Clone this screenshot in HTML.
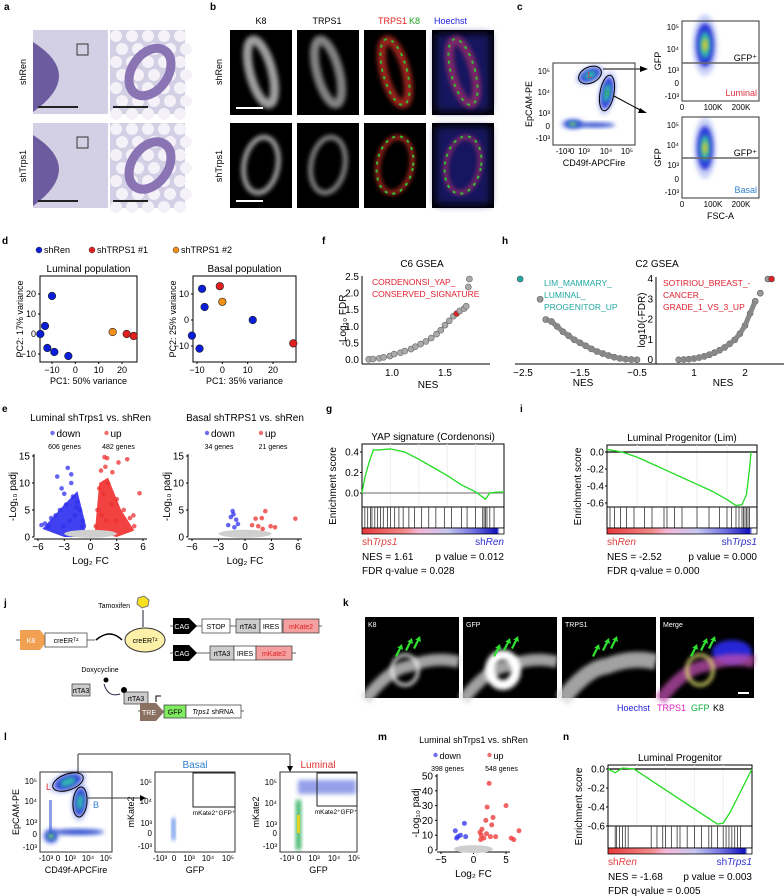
<!DOCTYPE html>
<html><head><meta charset="utf-8"><style>
html,body{margin:0;padding:0;background:#fff}
svg{display:block;font-family:"Liberation Sans",sans-serif}
text{fill:#000}
</style></head><body>
<svg id="fig" width="784" height="896" viewBox="0 0 784 896" xmlns="http://www.w3.org/2000/svg">
<defs>
<filter id="bl" x="-50%" y="-50%" width="200%" height="200%"><feGaussianBlur stdDeviation="2"/></filter>
<filter id="bl4" x="-50%" y="-50%" width="200%" height="200%"><feGaussianBlur stdDeviation="4"/></filter>
<linearGradient id="rank" x1="0" x2="1"><stop offset="0" stop-color="#e8383a"/><stop offset="0.3" stop-color="#f28a8a"/><stop offset="0.4" stop-color="#f4b8d8"/><stop offset="0.6" stop-color="#c8c8f0"/><stop offset="0.8" stop-color="#6a6ae0"/><stop offset="0.95" stop-color="#1010c0"/><stop offset="0.97" stop-color="#fff"/></linearGradient>
</defs>
<g id="root"></g>
</svg>
<script>
// ---------- data ----------
const pcaLumX=[-10,-13,-15,-12,-9,-3,16,22,25];
const pcaLumY=[19,4,0,-7,-9,-11,1,0,-1];
const pcaLumG=[0,0,0,0,0,0,2,1,1];
const pcaBasX=[-8,-7,-12,-9,12,-1,0,28];
const pcaBasY=[12,5,-6,-11,0,13,7,-9];
const pcaBasG=[0,0,0,0,0,1,2,1];
const volLumDownX=[-2.6,-3.8,-2.2,-3.3,-4.5,-5.2,-5.6,-3.0,-2.0,-1.5,-1.2,-2.8,-4.0,-3.5,-1.8,-2.4,-0.9,-1.0,-4.8,-3.1,-2.2,-1.6];
const volLumDownY=[12.8,11.2,11.6,9.0,3.5,2.5,2.2,8.0,7.5,6.5,5.0,6.0,4.0,5.0,4.0,3.0,3.0,2.0,2.0,2.0,10.0,5.5];
const volLumUpX=[1.6,1.9,1.7,4.2,3.2,2.5,5.6,1.2,2.0,1.0,1.5,3.0,3.8,4.5,5.0,0.8,2.4,1.3,2.9,1.8,4.9,0.6];
const volLumUpY=[14.8,14.6,13.0,14.4,13.8,12.0,8.1,12.3,10.0,9.0,8.0,7.0,5.0,3.5,2.0,5.0,6.0,4.0,3.0,3.0,4.0,2.0];
const volBasDownX=[-1.4,-1.3,-1.6,-1.0,-1.9,-0.8,-1.2];
const volBasDownY=[4.8,4.2,3.7,3.2,2.2,2.4,1.8];
const volBasUpX=[2.3,1.9,1.2,0.8,1.5,3.4,2.9,5.7,2.0];
const volBasUpY=[4.8,3.5,3.4,2.2,2.0,1.8,2.0,3.4,1.5];
const volMDownX=[-1.4,-2.8,-2.0,-2.4,-1.2,-2.6];
const volMDownY=[18,13,10,9,9,8];
const volMUpX=[2.4,2.1,5.0,3.0,1.0,1.2,1.6,2.0,2.6,3.4,1.3,5.8,6.2,7.0,1.9,2.8,1.1];
const volMUpY=[45,29,30,22,12,10,8,11,9,9,14,8,7,13,20,17,7];
const c6NES=[0.78,0.82,0.88,0.92,0.98,1.02,1.08,1.12,1.18,1.22,1.27,1.32,1.37,1.42,1.46,1.50,1.54,1.58,1.61,1.64,1.68,1.70,1.72,1.73];
const c6FDR=[0.02,0.03,0.05,0.08,0.12,0.18,0.22,0.27,0.33,0.40,0.48,0.56,0.66,0.78,0.90,1.05,1.18,1.32,1.40,1.48,1.55,1.62,2.20,2.44];
const c2NegNES=[-2.55,-2.2,-2.1,-2.0,-1.9,-1.8,-1.7,-1.6,-1.5,-1.4,-1.3,-1.2,-1.1,-1.0,-0.9,-0.8,-0.7,-0.6,-0.5];
const c2NegFDR=[4.0,3.0,2.0,1.9,1.65,1.4,1.2,1.0,0.85,0.7,0.55,0.42,0.32,0.22,0.14,0.08,0.04,0.02,0.01];
const c2PosNES=[0.7,0.8,0.9,1.0,1.1,1.2,1.3,1.4,1.5,1.6,1.7,1.8,1.9,2.0,2.1,2.2,2.3,2.45,2.52];
const c2PosFDR=[0.01,0.02,0.04,0.07,0.12,0.18,0.26,0.36,0.48,0.62,0.80,1.0,1.3,1.7,2.3,2.9,3.3,4.0,4.0];
const gPos=[0,0.02,0.05,0.08,0.12,0.2,0.3,0.4,0.5,0.6,0.7,0.8,0.84,0.87,0.9,0.95,1];
const gES=[0,0.15,0.3,0.42,0.42,0.43,0.4,0.33,0.25,0.17,0.08,0.01,-0.03,-0.06,0.0,0.01,0.01];
const iPos=[0,0.1,0.2,0.3,0.4,0.5,0.6,0.7,0.8,0.86,0.9,0.93,0.95,0.96];
const iES=[0.03,0.0,-0.06,-0.14,-0.22,-0.3,-0.38,-0.46,-0.56,-0.63,-0.62,-0.5,-0.2,0.0];
const nPos=[0,0.05,0.1,0.18,0.3,0.4,0.5,0.6,0.7,0.76,0.8,0.85,0.9,0.95,1];
const nES=[0,-0.04,0.01,0,-0.12,-0.22,-0.32,-0.42,-0.52,-0.58,-0.57,-0.45,-0.3,-0.15,0];
const gHits=[0.02,0.04,0.06,0.07,0.09,0.11,0.13,0.15,0.18,0.2,0.23,0.26,0.29,0.33,0.37,0.42,0.47,0.52,0.58,0.63,0.7,0.74,0.8,0.85,0.86,0.87,0.88,0.9,0.93];
const iHits=[0.02,0.05,0.09,0.13,0.18,0.25,0.3,0.38,0.4,0.45,0.5,0.6,0.68,0.75,0.8,0.83,0.86,0.88,0.9,0.91,0.92,0.93,0.94,0.95];
const nHits=[0.05,0.06,0.08,0.1,0.12,0.14,0.3,0.34,0.38,0.4,0.44,0.48,0.5,0.55,0.6,0.65,0.7,0.72,0.76,0.8,0.82,0.84,0.86,0.88,0.9,0.92];

// ---------- helpers ----------
const NS='http://www.w3.org/2000/svg';
const root=document.getElementById('root');
function mk(tag,attrs,name,parent){
  const el=document.createElementNS(NS,tag);
  for(const k in attrs) el.setAttribute(k,attrs[k]);
  
  
  (parent||root).appendChild(el);
  return el;
}
function tx(x,y,s,o,name){
  o=o||{};
  const a={x:x,y:y,'font-size':o.fs||9,'text-anchor':o.a||'start'};
  if(o.fill) a.style='fill:'+o.fill;
  if(o.w) a['font-weight']=o.w;
  if(o.rot) a.transform='rotate('+o.rot+' '+x+' '+y+')';
  if(o.it) a['font-style']='italic';
  const t=mk('text',a,name||'label');
  t.textContent=s;
  return t;
}
function lin(d0,d1,r0,r1){return v=>r0+(v-d0)/(d1-d0)*(r1-r0);}
function line(x1,y1,x2,y2,st,w,name){return mk('line',{x1:x1,y1:y1,x2:x2,y2:y2,stroke:st||'#000','stroke-width':w||1},name||'axis-line');}
function rect(x,y,w,h,f,st,name,sw){return mk('rect',{x:x,y:y,width:w,height:h,fill:f||'none',stroke:st||'none','stroke-width':sw||1},name||'box');}

// panel letters
[['a',4,10],['b',210,10],['c',517,10],['d',2,244],['f',322,244],['h',502,244],['e',2,412],['g',326,412],['i',520,412],['j',4,606],['k',343,606],['l',4,740],['m',378,740],['n',563,740]].forEach(p=>tx(p[1],p[2],p[0],{fs:10,w:'bold'},'panel-label-'+p[0]));

// ---------- a: histology ----------
function histo(x,y,w,h,zoomed,name){
  const g=mk('g',{},name);
  mk('rect',{x:x,y:y,width:w,height:h,fill:'#d3cfe4'},'tissue-bg',g);
  if(!zoomed){
    mk('path',{d:`M${x} ${y+12} Q${x+52} ${y+45} ${x} ${y+h-2} Z`,fill:'#6c5b9e'},'lymph-node',g);
    mk('rect',{x:x+44,y:y+14,width:11,height:11,fill:'none',stroke:'#333'},'inset-box',g);
    mk('line',{x1:x+5,y1:y+h-7,x2:x+45,y2:y+h-7,stroke:'#222','stroke-width':2},'scale-bar',g);
  } else {
    for(let i=0;i<5;i++)for(let j=0;j<7;j++){mk('circle',{cx:x+6+i*16+(j%2)*6,cy:y+6+j*13,r:6,fill:'#f4f2f8'},'fat-cell',g);}
    mk('ellipse',{cx:x+40,cy:y+h/2,rx:18,ry:26,fill:'none',stroke:'#8a74b4','stroke-width':9,transform:`rotate(35 ${x+40} ${y+h/2})`},'duct',g);
    mk('line',{x1:x+3,y1:y+h-7,x2:x+38,y2:y+h-7,stroke:'#222','stroke-width':2},'scale-bar',g);
  }
}
histo(33,30,75,84,false,'shren-overview');histo(110,30,75,84,true,'shren-zoom');
histo(33,123,75,85,false,'shtrps1-overview');histo(110,123,75,85,true,'shtrps1-zoom');
tx(26,72,'shRen',{rot:-90,a:'middle'},'row-label-shren');tx(26,166,'shTrps1',{rot:-90,a:'middle'},'row-label-shtrps1');

// ---------- b: immunofluorescence ----------
const bx=[230,297,364,432], bw=62;
const bcols=[['#bbb','#bbb'],['#999','#999'],['#b02a24','#2c9a2c'],['#902a6a','#2a2ad0']];
[[30,'shren',false],[123,'shtrps1',true]].forEach(r=>{
  bx.forEach((x,i)=>{
    const g=mk('g',{},'if-tile-'+r[1]+'-'+i);
    mk('rect',{x:x,y:r[0],width:bw,height:85,fill:'#000'},'tile-bg',g);
    const cx=x+31,cy=r[0]+42;
    if(i==3) mk('rect',{x:x+4,y:r[0]+4,width:bw-8,height:77,fill:'#141460',filter:'url(#bl4)'},'nuclei',g);
    mk('ellipse',{cx:cx,cy:cy,rx:r[2]?17:11,ry:r[2]?28:33,fill:'none',stroke:bcols[i][0],'stroke-width':r[2]?5:9,opacity:0.85,filter:'url(#bl)',transform:`rotate(${r[2]?10:-15} ${cx} ${cy})`},'duct-signal',g);
    if(i>=2) mk('ellipse',{cx:cx,cy:cy,rx:r[2]?18:12,ry:r[2]?29:34,fill:'none',stroke:'#30c030','stroke-width':2,'stroke-dasharray':'3 5',transform:`rotate(${r[2]?10:-15} ${cx} ${cy})`},'k8-signal',g);
    if(i==0) mk('line',{x1:x+6,y1:r[0]+78,x2:x+33,y2:r[0]+78,stroke:'#fff','stroke-width':2},'scale-bar',g);
  });
});
tx(261,24,'K8',{a:'middle'},'col-k8');tx(327,24,'TRPS1',{a:'middle'},'col-trps1');
tx(378,24,'TRPS1',{fill:'#e02020'},'col-merge-trps1');tx(409,24,'K8',{fill:'#20a020'},'col-merge-k8');
tx(434,24,'Hoechst',{fill:'#2020e0'},'col-hoechst');
tx(222,72,'shRen',{rot:-90,a:'middle'},'b-row-shren');tx(222,166,'shTrps1',{rot:-90,a:'middle'},'b-row-shtrps1');

// ---------- flow helpers ----------
function blob(cx,cy,rx,ry,rot,name,core){
  const g=mk('g',{transform:`rotate(${rot||0} ${cx} ${cy})`},name);
  mk('ellipse',{cx:cx,cy:cy,rx:rx*1.4,ry:ry*1.4,fill:'#a8b4f0',opacity:0.6,filter:'url(#bl)'},'density-low',g);
  mk('ellipse',{cx:cx,cy:cy,rx:rx,ry:ry,fill:'#2a3ad8',filter:'url(#bl)'},'density-mid',g);
  mk('ellipse',{cx:cx,cy:cy,rx:rx*0.6,ry:ry*0.6,fill:'#30b8b0',filter:'url(#bl)'},'density-high',g);
  if(core) mk('ellipse',{cx:cx,cy:cy,rx:rx*0.3,ry:ry*0.3,fill:'#d8c830',filter:'url(#bl)'},'density-peak',g);
  return g;
}
function flowFrame(x,y,w,h,yt,xt,ylab,xlab,name){
  rect(x,y,w,h,'none','#333',name+'-frame');
  yt.forEach(t=>tx(x-3,t[1],t[0],{a:'end',fs:8},name+'-ytick'));
  xt.forEach(t=>tx(t[1],y+h+9,t[0],{a:'middle',fs:8},name+'-xtick'));
  tx(x-21,y+h/2,ylab,{rot:-90,a:'middle',fs:9},name+'-ylabel');
  tx(x+w/2,y+h+21,xlab,{a:'middle',fs:9},name+'-xlabel');
}
// c
blob(573,124,9,4,0,'neg-pop',true);mk('ellipse',{cx:595,cy:125,rx:20,ry:2.5,fill:'#3050d0',filter:'url(#bl)'},'neg-band');
blob(590,75,11,6,-25,'luminal-pop');blob(607,93,6,16,10,'basal-pop');
mk('ellipse',{cx:590,cy:75,rx:12,ry:8,transform:'rotate(-25 590 75)',fill:'none',stroke:'#000'},'gate-L');
mk('ellipse',{cx:607,cy:93,rx:7,ry:18,transform:'rotate(10 607 93)',fill:'none',stroke:'#000'},'gate-B');
tx(590,78,'L',{fs:8,fill:'#e03030',a:'middle'},'gate-L-label');tx(607,96,'B',{fs:8,fill:'#30a060',a:'middle'},'gate-B-label');
flowFrame(553,63,82,82,[['10⁵',74],['10⁴',95],['10³',116],['0',129],['-10³',141]],[['-10³',563],['0',572],['10³',584],['10⁴',606],['10⁵',627]],'EpCAM-PE','CD49f-APCFire','c-main');
line(603,69,640,69,'#555',1.5,'arrow-luminal');mk('path',{d:'M640 66 L648 69 L640 72 Z',fill:'#000'},'arrowhead');
line(614,96,642,111,'#000',1,'arrow-basal');mk('path',{d:'M640 108 L647 113 L638 113 Z',fill:'#000'},'arrowhead');
blob(705,45,9,22,0,'luminal-gfp-pop',true);
flowFrame(682,21,77,80,[['10⁵',30],['10⁴',52],['10³',73],['0',86],['-10³',99]],[['0',682],['100K',713],['200K',741]],'GFP','','c-lum');
line(682,63,759,63,'#666',1.5,'gfp-gate');tx(757,61,'GFP⁺',{a:'end',fs:9},'gfp-gate-label');tx(757,96,'Luminal',{a:'end',fs:9,fill:'#e03040'},'luminal-label');
blob(705,148,8,22,0,'basal-gfp-pop',true);
flowFrame(682,117,77,81,[['10⁵',128],['10⁴',148],['10³',168],['0',182],['-10³',195]],[['0',682],['100K',713],['200K',741]],'GFP','FSC-A','c-bas');
line(682,158,759,158,'#666',1.5,'gfp-gate');tx(757,156,'GFP⁺',{a:'end',fs:9},'gfp-gate-label');tx(757,193,'Basal',{a:'end',fs:9,fill:'#3080d0'},'basal-label');

// ---------- d: PCA ----------
const grpCol=['#0a1ed8','#e02020','#f0901a'];
mk('circle',{cx:39,cy:250,r:3,fill:grpCol[0],stroke:'#333','stroke-width':0.5},'legend-shren-dot');tx(44,253,'shRen',{fs:9},'legend-shren');
mk('circle',{cx:92,cy:250,r:3,fill:grpCol[1],stroke:'#333','stroke-width':0.5},'legend-sh1-dot');tx(97,253,'shTRPS1 #1',{fs:9},'legend-shtrps1-1');
mk('circle',{cx:176,cy:250,r:3,fill:grpCol[2],stroke:'#333','stroke-width':0.5},'legend-sh2-dot');tx(181,253,'shTRPS1 #2',{fs:9},'legend-shtrps1-2');
function pca(X,Y,G,fx,fy,frame,xt,yt,title,xl,yl,name){
  rect(frame[0],frame[1],frame[2],frame[3],'none','#000',name+'-frame');
  tx(frame[0]+frame[2]/2,frame[1]-4,title,{a:'middle',fs:10},name+'-title');
  xt.forEach(v=>{line(fx(v),frame[1]+frame[3],fx(v),frame[1]+frame[3]+2,'#000',1,'tick');tx(fx(v),frame[1]+frame[3]+11,String(v).replace('-','−'),{a:'middle',fs:9},name+'-xtick');});
  yt.forEach(v=>{line(frame[0]-2,fy(v),frame[0],fy(v),'#000',1,'tick');tx(frame[0]-4,fy(v)+3,String(v).replace('-','−'),{a:'end',fs:9},name+'-ytick');});
  tx(frame[0]+frame[2]/2,frame[1]+frame[3]+22,xl,{a:'middle',fs:9},name+'-xlabel');
  tx(frame[0]-17,frame[1]+frame[3]/2,yl,{a:'middle',fs:9,rot:-90},name+'-ylabel');
  X.forEach((v,i)=>mk('circle',{cx:fx(v),cy:fy(Y[i]),r:3.8,fill:grpCol[G[i]],stroke:'#222','stroke-width':0.6},name+'-point'));
}
pca(pcaLumX,pcaLumY,pcaLumG,lin(-10,20,52,122),lin(0,10,334,314),[40,276,97,86],[-10,0,10,20],[-10,0,10,20],'Luminal population','PC1: 50% variance','PC2: 17% variance','pca-luminal');
pca(pcaBasX,pcaBasY,pcaBasG,lin(-10,20,197,273),lin(0,10,320,294),[193,276,103,86],[-10,0,10,20],[-10,0,10],'Basal population','PC1: 35% variance','PC2: 25% variance','pca-basal');

// ---------- e / m: volcano ----------
function volcano(o){
  const fx=lin(o.xd[0],o.xd[1],o.xr[0],o.xr[1]), fy=lin(o.yd[0],o.yd[1],o.yr[0],o.yr[1]);
  const ax=o.xr[0]-4;
  line(ax,o.yr[1]-2,ax,o.yr[0],'#000',1,o.name+'-yaxis');line(ax,o.yr[0]+2,o.xr[1]+4,o.yr[0]+2,'#000',1,o.name+'-xaxis');
  o.xt.forEach(v=>{line(fx(v),o.yr[0]+2,fx(v),o.yr[0]+4,'#000',1,'tick');tx(fx(v),o.yr[0]+13,String(v).replace('-','−'),{a:'middle',fs:10},o.name+'-xtick');});
  o.yt.forEach(v=>{line(ax-2,fy(v),ax,fy(v),'#000',1,'tick');tx(ax-4,fy(v)+3.5,String(v),{a:'end',fs:10},o.name+'-ytick');});
  if(o.dense){
    mk('path',{d:`M${fx(-1)} ${fy(0)} L${fx(-3)} ${fy(0)} L${fx(-5.5)} ${fy(1.5)} L${fx(-3)} ${fy(6)} L${fx(-1.5)} ${fy(8.5)} L${fx(-0.5)} ${fy(2)} Z`,fill:'#2020ee',opacity:0.85},o.name+'-down-cloud');
    mk('path',{d:`M${fx(0.5)} ${fy(1)} L${fx(1)} ${fy(10)} L${fx(2)} ${fy(11)} L${fx(3.5)} ${fy(5)} L${fx(5)} ${fy(1.2)} L${fx(3)} ${fy(0)} Z`,fill:'#ee2020',opacity:0.85},o.name+'-up-cloud');
  }
  mk('ellipse',{cx:fx(0),cy:fy(0.6),rx:(fx(3)-fx(0)),ry:4,fill:'#cfcfcf'},o.name+'-ns-cloud');
  o.dX.forEach((v,i)=>mk('circle',{cx:fx(v),cy:fy(o.dY[i]),r:o.r,fill:'#3030ee',opacity:0.75},o.name+'-down-point'));
  o.uX.forEach((v,i)=>mk('circle',{cx:fx(v),cy:fy(o.uY[i]),r:o.r,fill:'#ee3030',opacity:0.75},o.name+'-up-point'));
  const cx=(o.xr[0]+o.xr[1])/2;
  tx(cx,o.titleY,o.title[0],{a:'middle',fs:o.tfs||10},o.name+'-title');
  mk('circle',{cx:cx-38,cy:o.titleY+12,r:2.2,fill:'#7070ee'},'legend-down-dot');tx(cx-34,o.titleY+16,'down',{fs:o.tfs||10},o.name+'-legend-down');
  mk('circle',{cx:cx+16,cy:o.titleY+12,r:2.2,fill:'#ee7070'},'legend-up-dot');tx(cx+20,o.titleY+16,'up',{fs:o.tfs||10},o.name+'-legend-up');
  tx(cx-26,o.titleY+28,o.title[1],{a:'middle',fs:7},o.name+'-down-count');tx(cx+28,o.titleY+28,o.title[2],{a:'middle',fs:7},o.name+'-up-count');
  tx(cx,o.yr[0]+27,'Log₂ FC',{a:'middle',fs:10},o.name+'-xlabel');
  tx(ax-18,(o.yr[0]+o.yr[1])/2,'-Log₁₀ padj',{a:'middle',fs:10,rot:-90},o.name+'-ylabel');
}
volcano({name:'volcano-luminal',xd:[-6,6],xr:[38,143],yd:[0,15],yr:[537,456],xt:[-6,-3,0,3,6],yt:[0,5,10,15],dX:volLumDownX,dY:volLumDownY,uX:volLumUpX,uY:volLumUpY,r:2.3,dense:true,titleY:421,title:['Luminal shTrps1 vs. shRen','606 genes','482 genes']});
volcano({name:'volcano-basal',xd:[-6,6],xr:[192,298],yd:[0,15],yr:[537,456],xt:[-6,-3,0,3,6],yt:[0,5,10,15],dX:volBasDownX,dY:volBasDownY,uX:volBasUpX,uY:volBasUpY,r:2.3,titleY:421,title:['Basal shTRPS1 vs. shRen','34 genes','21 genes']});
volcano({name:'volcano-m',xd:[-5,5],xr:[441,506],yd:[0,50],yr:[850,776],xt:[-5,0,5],yt:[0,10,20,30,40,50],dX:volMDownX,dY:volMDownY,uX:volMUpX,uY:volMUpY,r:2.5,titleY:743,tfs:9,title:['Luminal shTrps1 vs. shRen','398 genes','548 genes']});

// ---------- f / h: GSEA scatter ----------
(function(){
  const fx=lin(1,1.5,392,445), fy=lin(0,2.5,360,277);
  line(362,276,362,364,'#000',1,'f-yaxis');line(362,364,490,364,'#000',1,'f-xaxis');
  [0,0.5,1,1.5,2,2.5].forEach(v=>tx(359,fy(v)+3,v.toFixed(1),{a:'end',fs:10},'f-ytick'));
  [1,1.5].forEach(v=>tx(fx(v),376,v.toFixed(1),{a:'middle',fs:10},'f-xtick'));
  tx(422,267,'C6 GSEA',{a:'middle',fs:10},'f-title');tx(428,388,'NES',{a:'middle',fs:10},'f-xlabel');
  tx(346,320,'-Log₁₀ FDR',{a:'middle',fs:10,rot:-90},'f-ylabel');
  tx(372,285,'CORDENONSI_YAP_',{fs:8.5,fill:'#e02030'},'f-annot');tx(372,297,'CONSERVED_SIGNATURE',{fs:8.5,fill:'#e02030'},'f-annot');
  c6NES.forEach((v,i)=>mk('circle',{cx:fx(v),cy:fy(c6FDR[i]),r:3,fill:i==18?'#e02020':'#aaa',stroke:'#666','stroke-width':0.6},'f-point'));
})();
(function(){
  const fxn=lin(-2.5,-0.5,523,637), fxp=lin(1,2,694,745), fy=lin(0,4,360,279);
  line(515,364,784,364,'#000',1,'h-xaxis');line(656,277,656,364,'#000',1,'h-yaxis');
  [0,1,2,3,4].forEach(v=>tx(653,fy(v)+3,String(v),{a:'end',fs:10},'h-ytick'));
  [-2.5,-1.5,-0.5].forEach(v=>tx(fxn(v),376,String(v).replace('-','−'),{a:'middle',fs:10},'h-xtick'));
  [1,2].forEach(v=>tx(fxp(v),376,String(v),{a:'middle',fs:10},'h-xtick'));
  tx(657,267,'C2 GSEA',{a:'middle',fs:10},'h-title');tx(583,386,'NES',{a:'middle',fs:10},'h-xlabel');tx(723,386,'NES',{a:'middle',fs:10},'h-xlabel');
  tx(645,320,'log10(-FDR)',{a:'middle',fs:10,rot:-90},'h-ylabel');
  ['LIM_MAMMARY_','LUMINAL_','PROGENITOR_UP'].forEach((s,i)=>tx(544,286+i*12,s,{fs:8.5,fill:'#20a8a0'},'h-annot-neg'));
  ['SOTIRIOU_BREAST_-','CANCER_','GRADE_1_VS_3_UP'].forEach((s,i)=>tx(663,286+i*12,s,{fs:8.5,fill:'#e02030'},'h-annot-pos'));
  c2NegNES.forEach((v,i)=>mk('circle',{cx:fxn(v),cy:fy(c2NegFDR[i]),r:3,fill:i==0?'#20a8a0':'#999',stroke:'#555','stroke-width':0.6},'h-point-neg'));
  mk('path',{d:'M'+c2NegNES.slice(2).map((v,i)=>fxn(v)+' '+fy(c2NegFDR[i+2])).join(' L'),fill:'none',stroke:'#888','stroke-width':5},'h-dense-neg');
  c2PosNES.forEach((v,i)=>mk('circle',{cx:fxp(v),cy:fy(c2PosFDR[i]),r:3,fill:i==18?'#e02020':'#999',stroke:'#555','stroke-width':0.6},'h-point-pos'));
  mk('path',{d:'M'+c2PosNES.slice(0,16).map((v,i)=>fxp(v)+' '+fy(c2PosFDR[i])).join(' L'),fill:'none',stroke:'#888','stroke-width':5},'h-dense-pos');
})();

// ---------- GSEA enrichment plots ----------
function gsea(o){
  const fx=lin(0,1,o.x0,o.x1), fy=lin(0,o.yv1,o.zeroY,o.y1);
  rect(o.x0,o.top,o.x1-o.x0,o.mid-o.top,'none','#000',o.name+'-es-frame');
  for(let k=1;k<5;k++) line(fx(k/5),o.top,fx(k/5),o.mid,'#eee',1,'gridline');
  line(o.x0,o.zeroY,o.x1,o.zeroY,o.zc||'#888',1.2,o.name+'-zero-line');
  o.ticks.forEach(v=>{tx(o.x0-3,fy(v)+3.5,v.toFixed(1),{a:'end',fs:10},o.name+'-ytick');line(o.x0-2,fy(v),o.x0,fy(v),'#000',1,'tick');});
  mk('polyline',{points:o.pos.map((p,i)=>fx(p)+','+fy(o.es[i])).join(' '),fill:'none',stroke:'#22dd22','stroke-width':1.3},o.name+'-es-curve');
  rect(o.x0,o.mid,o.x1-o.x0,o.bar-o.mid,'none','#000',o.name+'-hit-frame');
  o.hits.forEach(h=>line(fx(h),o.mid,fx(h),o.bar,'#333',0.8,o.name+'-hit'));
  rect(o.x0,o.bar,o.x1-o.x0,6,'url(#rank)','#000',o.name+'-rank-bar',0.8);
  tx((o.x0+o.x1)/2,o.top-4,o.title,{a:'middle',fs:10},o.name+'-title');
  tx(o.x0-26,(o.top+o.bar)/2,'Enrichment score',{a:'middle',fs:10,rot:-90},o.name+'-ylabel');
  const l=mk('text',{x:o.x0,y:o.bar+17,'font-size':10},o.name+'-left-label');l.innerHTML='<tspan style="fill:#e04040">sh</tspan><tspan style="fill:#e04040;font-style:italic">'+o.left+'</tspan>';
  const r=mk('text',{x:o.x1,y:o.bar+17,'font-size':10,'text-anchor':'end'},o.name+'-right-label');r.innerHTML='<tspan style="fill:#3030d0">sh</tspan><tspan style="fill:#3030d0;font-style:italic">'+o.right+'</tspan>';
  tx(o.x0,o.bar+32,o.nes,{fs:10},o.name+'-nes');tx(o.x1,o.bar+32,o.p,{fs:10,a:'end'},o.name+'-pvalue');
  tx(o.x0,o.bar+46,o.fdr,{fs:10},o.name+'-fdr');
}
gsea({name:'gsea-g',x0:362,x1:504,top:444,mid:507,bar:528,zeroY:493,y1:452,yv1:0.4,ticks:[0,0.2,0.4],pos:gPos,es:gES,hits:gHits,title:'YAP signature (Cordenonsi)',left:'Trps1',right:'Ren',nes:'NES = 1.61',p:'p value = 0.012',fdr:'FDR q-value = 0.028'});
gsea({name:'gsea-i',x0:607,x1:757,top:445,mid:507,bar:528,zeroY:452,y1:503,yv1:-0.6,zc:'#000',ticks:[0,-0.2,-0.4,-0.6],pos:iPos,es:iES,hits:iHits,title:'Luminal Progenitor (Lim)',left:'Ren',right:'Trps1',nes:'NES = -2.52',p:'p value = 0.000',fdr:'FDR q-value = 0.000'});
gsea({name:'gsea-n',x0:608,x1:752,top:765,mid:826,bar:848,zeroY:769,y1:826,yv1:-0.6,zc:'#000',ticks:[0,-0.2,-0.4,-0.6],pos:nPos,es:nES,hits:nHits,title:'Luminal Progenitor',left:'Ren',right:'Trps1',nes:'NES = -1.68',p:'p value = 0.003',fdr:'FDR q-value = 0.005'});

// ---------- j: construct diagram ----------
function arrowShape(x,y,w,h,fill,label,name,tc){
  mk('path',{d:`M${x} ${y} L${x+w-8} ${y} L${x+w} ${y+h/2} L${x+w-8} ${y+h} L${x} ${y+h} Z`,fill:fill},name);
  tx(x+(w-6)/2,y+h/2+3,label,{a:'middle',fs:7,fill:tc||'#fff'},name+'-label');
}
function boxL(x,y,w,h,fill,label,name,tc){rect(x,y,w,h,fill,'#333',name,0.7);tx(x+w/2,y+h/2+3,label,{a:'middle',fs:7,fill:tc||'#000'},name+'-label');}
line(16,640,95,640,'#333',0.8,'k8-line');arrowShape(20,630,28,20,'#f0a050','K8','k8-promoter');boxL(45,633,42,14,'#fff','creERᵀ²','creer-box');
mk('path',{d:'M96 640 Q110 628 122 640',fill:'none',stroke:'#000','stroke-width':1.5},'cre-arrow');
mk('ellipse',{cx:145,cy:640,rx:20,ry:12,fill:'#fdf0a8',stroke:'#333'},'creer-protein');tx(145,643,'creERᵀ²',{a:'middle',fs:7},'creer-protein-label');
tx(130,608,'Tamoxifen',{a:'end',fs:7},'tamoxifen-label');mk('polygon',{points:'138,598 144,596 149,600 148,606 142,608 137,604',fill:'#f8e020',stroke:'#777'},'tamoxifen-icon');
line(143,610,143,627,'#223',1,'tamoxifen-arrow');
line(170,626,322,626,'#333',0.8,'construct1-line');arrowShape(173,618,24,16,'#000','CAG','cag1');boxL(202,619,28,14,'#fff','STOP','stop-box');boxL(236,619,24,14,'#ccc','rtTA3','rtta3-box1');boxL(260,619,22,14,'#fff','IRES','ires-box1');boxL(283,619,36,14,'#f4a0a0','mKate2','mkate-box1',"#e02020");
line(170,653,296,653,'#333',0.8,'construct2-line');arrowShape(173,645,24,16,'#000','CAG','cag2');boxL(210,646,24,14,'#ccc','rtTA3','rtta3-box2');boxL(234,646,22,14,'#fff','IRES','ires-box2');boxL(256,646,36,14,'#f4a0a0','mKate2','mkate-box2',"#e02020");
tx(100,672,'Doxycycline',{a:'middle',fs:7},'doxy-label');
boxL(72,684,18,12,'#ccc','rtTA3','rtta3-free');mk('circle',{cx:106,cy:680,r:2.5,fill:'#000'},'doxy-dot');
mk('path',{d:'M104 684 Q108 698 120 694',fill:'none',stroke:'#224','stroke-width':1},'bind-arrow');
boxL(124,692,24,12,'#ccc','rtTA3','rtta3-bound');mk('circle',{cx:124,cy:690,r:3,fill:'#000'},'doxy-bound');
line(138,711,244,711,'#333',0.8,'construct3-line');arrowShape(140,703,24,18,'#8a7060','TRE','tre');boxL(164,705,22,13,'#80ea60','GFP','gfp-box');
rect(186,705,55,13,'#fff','#333','shrna-box',0.7);const sh=mk('text',{x:213,y:714,'font-size':7,'text-anchor':'middle'},'shrna-label');sh.innerHTML='<tspan font-style="italic">Trps1</tspan> shRNA';
mk('path',{d:'M156 702 L156 696 L161 696',fill:'none',stroke:'#000'},'tss-arrow');

// ---------- k ----------
const kx=[365,463,562,660], kl=['K8','GFP','TRPS1','Merge'];
kx.forEach((x,i)=>{
  const g=mk('g',{},'k-tile-'+kl[i]);
  mk('rect',{x:x,y:617,width:94,height:81,fill:'#000'},'tile-bg',g);
  const col=i==3?'#c050b0':'#d8d8d8';
  if(i==3) mk('ellipse',{cx:x+72,cy:652,rx:20,ry:12,fill:'#2828d8',filter:'url(#bl)'},'hoechst',g);
  mk('path',{d:`M${x} ${700} Q${x+25} ${668} ${x+45} ${666} Q${x+70} ${656} ${x+94} ${662}`,fill:'none',stroke:col,'stroke-width':i==2?16:12,opacity:0.75,filter:'url(#bl)'},'cells',g);
  if(i!=2) mk('ellipse',{cx:x+40,cy:670,rx:13,ry:15,fill:'none',stroke:i==1?'#fff':(i==3?'#e0e070':'#eee'),'stroke-width':i==1?10:3,filter:'url(#bl)'},'gfp-cell',g);
  [[30,656],[40,650],[48,648]].forEach(p=>mk('path',{d:`M${x+p[0]} ${p[1]} l4 -8 l-2 0 l5 -4 l1 6 l-2 -1 l-4 8 Z`,fill:'#30e030'},'green-arrow',g));
  tx(x+3,627,kl[i],{fs:7,fill:'#fff'},'k-tile-label');
  if(i==3) line(x+78,693,x+89,693,'#fff',2,'scale-bar');
});
tx(617,711,'Hoechst',{fs:9,fill:'#2020e0'},'k-legend-hoechst');tx(657,711,'TRPS1',{fs:9,fill:'#e020c0'},'k-legend-trps1');tx(691,711,'GFP',{fs:9,fill:'#10b040'},'k-legend-gfp');tx(713,711,'K8',{fs:9},'k-legend-k8');

// ---------- l ----------
blob(51,836,6,6,0,'l-neg-pop',true);mk('ellipse',{cx:78,cy:832,rx:26,ry:3,fill:'#3050d0',filter:'url(#bl)'},'l-neg-band');
mk('rect',{x:49,y:800,width:3,height:34,fill:'#4060d0',opacity:0.6},'l-neg-stem');
blob(68,782,14,7,-20,'l-luminal-pop');blob(80,802,6,14,5,'l-basal-pop');
mk('ellipse',{cx:68,cy:782,rx:16,ry:8,transform:'rotate(-20 68 782)',fill:'none',stroke:'#000'},'l-gate-L');
mk('ellipse',{cx:80,cy:802,rx:7,ry:15,transform:'rotate(5 80 802)',fill:'none',stroke:'#000'},'l-gate-B');
tx(46,790,'L',{fs:9,fill:'#e03030'},'l-gate-L-label');tx(93,808,'B',{fs:9,fill:'#3080d0'},'l-gate-B-label');
flowFrame(40,772,72,80,[['10⁵',784],['10⁴',804],['10³',825],['0',837],['-10³',850]],[['-10³',46],['0',58],['10³',70],['10⁴',88],['10⁵',106]],'EpCAM-PE','CD49f-APCFire','l-main');
line(78,774,78,754,'#333',1,'l-connector');line(78,754,290,754,'#333',1,'l-connector');line(290,754,290,768,'#333',1,'l-connector');mk('path',{d:'M287 766 L290 772 L293 766 Z',fill:'#000'},'arrowhead');
line(88,798,140,798,'#333',1,'l-basal-arrow');mk('path',{d:'M140 795 L146 798 L140 801 Z',fill:'#000'},'arrowhead');
mk('rect',{x:172,y:818,width:3,height:22,fill:'#3070e0',filter:'url(#bl)'},'l-basal-cells');
flowFrame(155,772,80,80,[['10⁵',785],['10⁴',804],['10³',826],['0',836],['-10³',849]],[['-10³',160],['0',174],['10³',189],['10⁴',208],['10⁵',228]],'mKate2','GFP','l-basal');
rect(193,773,42,34,'none','#222','gate-basal');tx(214,815,'mKate2⁺GFP⁺',{fs:6.5,a:'middle'},'gate-basal-label');
tx(195,768,'Basal',{fs:10,a:'middle',fill:'#3080d0'},'l-basal-title');
mk('rect',{x:298,y:780,width:58,height:14,fill:'#6878e0',opacity:0.7,filter:'url(#bl)'},'l-lum-band');
mk('rect',{x:296,y:800,width:5,height:50,fill:'#30b060',filter:'url(#bl)'},'l-lum-column');mk('rect',{x:297,y:815,width:3,height:18,fill:'#e0d020'},'l-lum-core');
flowFrame(280,772,77,80,[['10⁵',785],['10⁴',806],['10³',827],['0',836],['-10³',849]],[['-10³',287],['0',299],['10³',314],['10⁴',334],['10⁵',354]],'mKate2','GFP','l-luminal');
rect(317,773,40,33,'none','#222','gate-luminal');tx(336,814,'mKate2⁺GFP⁺',{fs:6.5,a:'middle'},'gate-luminal-label');
tx(318,768,'Luminal',{fs:10,a:'middle',fill:'#e03030'},'l-luminal-title');
</script>
</body></html>
